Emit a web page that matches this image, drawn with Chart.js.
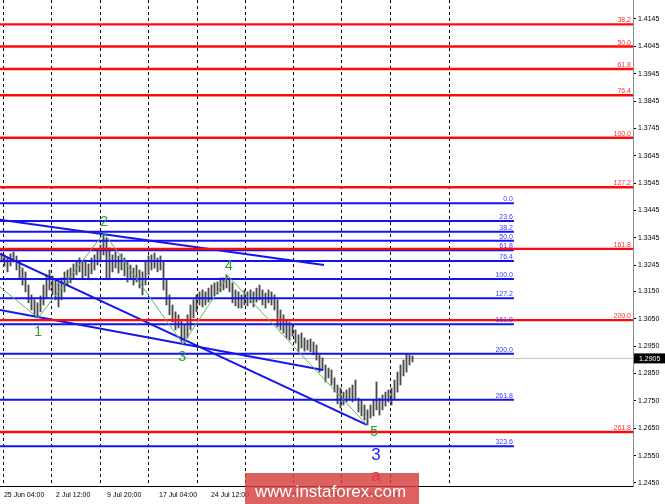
<!DOCTYPE html>
<html><head><meta charset="utf-8">
<script src="https://cdn.jsdelivr.net/npm/chart.js@4"></script>
<style>html,body{margin:0;padding:0;background:#fff;overflow:hidden}</style>
</head><body>
<canvas id="c" width="665" height="504"></canvas>
<script>
// ---- data ----
const highs = [
1.3290,1.3283,1.3272,1.3287,1.3294,1.3279,1.3257,1.3235,1.3221,1.3173,
1.3137,1.3119,1.3108,1.3133,1.3173,1.3210,1.3228,1.3206,1.3192,1.3181,
1.3199,1.3221,1.3228,1.3235,1.3250,1.3257,1.3272,1.3257,1.3265,1.3250,
1.3272,1.3283,1.3301,1.3319,1.3363,1.3345,1.3309,1.3283,1.3294,1.3279,
1.3287,1.3272,1.3257,1.3246,1.3235,1.3246,1.3228,1.3221,1.3257,1.3279,
1.3283,1.3290,1.3272,1.3279,1.3257,1.3192,1.3137,1.3100,1.3075,1.3064,
1.3045,1.3027,1.3064,1.3100,1.3119,1.3137,1.3148,1.3155,1.3148,1.3162,
1.3173,1.3181,1.3184,1.3199,1.3199,1.3210,1.3199,1.3181,1.3155,1.3148,
1.3137,1.3155,1.3148,1.3155,1.3148,1.3162,1.3173,1.3155,1.3144,1.3155,
1.3148,1.3137,1.3119,1.3082,1.3064,1.3045,1.3038,1.3027,1.3009,1.2991,
1.2998,1.2980,1.2972,1.2976,1.2965,1.2954,1.2918,1.2907,1.2881,1.2870,
1.2863,1.2834,1.2808,1.2797,1.2782,1.2790,1.2797,1.2808,1.2826,1.2760,
1.2753,1.2735,1.2717,1.2735,1.2753,1.2819,1.2760,1.2771,1.2782,1.2790,
1.2797,1.2826,1.2855,1.2881,1.2899,1.2921,1.2918,1.2914
];
const lows = [
1.3257,1.3243,1.3221,1.3243,1.3257,1.3228,1.3199,1.3173,1.3148,1.3108,
1.3082,1.3060,1.3053,1.3075,1.3100,1.3126,1.3155,1.3137,1.3119,1.3093,
1.3119,1.3148,1.3173,1.3181,1.3195,1.3210,1.3221,1.3199,1.3206,1.3192,
1.3214,1.3228,1.3246,1.3257,1.3283,1.3192,1.3192,1.3221,1.3235,1.3217,
1.3228,1.3206,1.3184,1.3192,1.3173,1.3184,1.3162,1.3137,1.3173,1.3210,
1.3228,1.3235,1.3221,1.3228,1.3155,1.3100,1.3064,1.3038,1.3009,1.3016,
1.2965,1.2958,1.2980,1.3009,1.3053,1.3075,1.3100,1.3093,1.3100,1.3111,
1.3119,1.3133,1.3140,1.3148,1.3155,1.3162,1.3148,1.3108,1.3097,1.3089,
1.3089,1.3100,1.3097,1.3108,1.3093,1.3111,1.3119,1.3100,1.3089,1.3108,
1.3100,1.3082,1.3020,1.3009,1.2998,1.2980,1.2972,1.2987,1.2961,1.2929,
1.2943,1.2932,1.2936,1.2929,1.2918,1.2899,1.2855,1.2863,1.2819,1.2834,
1.2808,1.2782,1.2739,1.2724,1.2735,1.2746,1.2753,1.2746,1.2753,1.2709,
1.2695,1.2680,1.2662,1.2687,1.2695,1.2717,1.2698,1.2717,1.2731,1.2746,
1.2735,1.2753,1.2782,1.2808,1.2841,1.2855,1.2881,1.2892
];
const yTicks = [1.4145,1.4045,1.3945,1.3845,1.3745,1.3645,1.3545,1.3445,1.3345,1.3245,1.3150,1.3050,1.2950,1.2850,1.2750,1.2650,1.2550,1.2450];
const yMin = 1.2439, yMax = 1.4214;
const xMax = 211;
const lastPrice = 1.2905;
const gridTimes = [1.1, 17.2, 33.4, 49.4, 65.8, 81.9, 97.8, 113.9, 130, 149.7];
const timeLabels = ['25 Jun 04:00','2 Jul 12:00','9 Jul 20:00','17 Jul 04:00','24 Jul 12:00','31 Jul 20:00','8 Aug 04:00','15 Aug 12:00'];
const timeLabelPos = [1.3, 18.7, 35.7, 53, 70.3, 87.3, 103.3, 119.3];
const redFibNames = ['38.2','50.0','61.8','76.4','100.0','127.2','161.8','200.0','261.8'];
const redFibLevels = [1.4125,1.4044,1.3962,1.3866,1.3711,1.3530,1.3305,1.3045,1.2636];
const blueFibNames = ['0.0','23.6','38.2','50.0','61.8','76.4','100.0','127.2','161.8','200.0','261.8','323.6'];
const blueFibLevels = [1.3472,1.3407,1.3368,1.3335,1.3300,1.3261,1.3195,1.3125,1.3030,1.2922,1.2754,1.2584];
const blueFibEnd = 171.3;
const trendX = [[0,108],[0,122.3],[0,107.7]];
const trendY = [[1.3411,1.3246],[1.3287,1.2662],[1.3082,1.2863]];
const waveX = [0, 12.7, 34.7, 61, 76, 122.3];
const waveY = [1.3166, 1.3053, 1.3363, 1.2958, 1.3206, 1.2662];
const waveNames = ['1','2','3','4','5'];
const waveNameX = [12.7, 34.7, 60.7, 76.3, 124.7];
const waveNameY = [1.3002, 1.3403, 1.2910, 1.3243, 1.2636];
const bigWaveNames = ['3','a'];
const bigWaveX = [125.3, 125.3];
const bigWaveY = [1.2550, 1.2473];

// ---- datasets ----
const datasets = [];
datasets.push({
  type:'bar', label:'price', order:20,
  data: highs.map((h,i)=>({x:i+0.5, y:[lows[i], h]})),
  backgroundColor:'#4a4a4a', borderWidth:0, barThickness:1.2
});
datasets.push({type:'line', order:25, data:[{x:0,y:lastPrice},{x:xMax,y:lastPrice}],
  borderColor:'#c4c4c4', borderWidth:1, pointRadius:0});
blueFibLevels.forEach(v=>datasets.push({type:'line', order:5,
  data:[{x:0,y:v},{x:blueFibEnd,y:v}], borderColor:'#1212f2', borderWidth:2, pointRadius:0}));
redFibLevels.forEach(v=>datasets.push({type:'line', order:3,
  data:[{x:0,y:v},{x:xMax,y:v}], borderColor:'#ff0a0a', borderWidth:2.4, pointRadius:0}));
trendX.forEach((xs,k)=>datasets.push({type:'line', order:4,
  data:[{x:xs[0],y:trendY[k][0]},{x:xs[1],y:trendY[k][1]}], borderColor:'#1515ee', borderWidth:2, pointRadius:0}));
datasets.push({type:'line', order:2, data: waveX.map((x,i)=>({x, y:waveY[i]})),
  borderColor:'#5cb85c', borderWidth:1, pointRadius:0, tension:0});

const overlay = {
  id:'overlay',
  afterDatasetsDraw(chart){
    const {ctx, scales:{x, y}, chartArea} = chart;
    ctx.save();
    ctx.font = '7px "Liberation Sans", Arial, sans-serif';
    ctx.textBaseline = 'alphabetic';
    ctx.textAlign = 'right';
    ctx.fillStyle = '#ff3030';
    redFibLevels.forEach((v,i)=>ctx.fillText(redFibNames[i], x.getPixelForValue(xMax)-2, y.getPixelForValue(v)-2));
    ctx.fillStyle = '#3a3aff';
    blueFibLevels.forEach((v,i)=>ctx.fillText(blueFibNames[i], x.getPixelForValue(blueFibEnd)-1, y.getPixelForValue(v)-2));
    // wave labels
    ctx.textAlign = 'center'; ctx.textBaseline = 'middle';
    ctx.font = '14px "Liberation Sans", Arial, sans-serif';
    ctx.fillStyle = '#2f9a2f';
    waveNames.forEach((t,i)=>ctx.fillText(t, x.getPixelForValue(waveNameX[i]), y.getPixelForValue(waveNameY[i])));
    ctx.font = '17px "Liberation Sans", Arial, sans-serif';
    ctx.fillStyle = '#1a1aff';
    ctx.fillText(bigWaveNames[0], x.getPixelForValue(bigWaveX[0]), y.getPixelForValue(bigWaveY[0]));
    ctx.fillStyle = '#ff1a1a';
    ctx.fillText(bigWaveNames[1], x.getPixelForValue(bigWaveX[1]), y.getPixelForValue(bigWaveY[1]));
    // time labels
    ctx.font = '7px "Liberation Sans", Arial, sans-serif';
    ctx.textAlign = 'left'; ctx.textBaseline = 'alphabetic';
    ctx.fillStyle = '#000';
    timeLabels.forEach((t,i)=>ctx.fillText(t, x.getPixelForValue(timeLabelPos[i]), chartArea.bottom+11));
    // last price box
    const py = y.getPixelForValue(lastPrice);
    ctx.fillStyle = '#000';
    ctx.fillRect(chartArea.right+1, py-5, 40, 10);
    ctx.fillStyle = '#fff';
    ctx.textBaseline = 'middle';
    ctx.fillText(lastPrice.toFixed(4), chartArea.right+6, py+0.5);
    ctx.restore();
  },
  afterDraw(chart){
    const {ctx, chartArea} = chart;
    ctx.save();
    ctx.fillStyle = 'rgba(214,62,62,0.82)';
    ctx.fillRect(245, chartArea.bottom-13, 174, 40);
    ctx.fillStyle = '#fff';
    ctx.font = '17px "Liberation Sans", Arial, sans-serif';
    ctx.textAlign = 'left'; ctx.textBaseline = 'alphabetic';
    ctx.fillText('www.instaforex.com', 255, chartArea.bottom+11);
    ctx.restore();
  }
};

new Chart(document.getElementById('c'), {
  type:'bar',
  data:{datasets},
  options:{
    responsive:false, animation:false, devicePixelRatio:1,
    layout:{padding:0},
    plugins:{legend:{display:false}, tooltip:{enabled:false}},
    scales:{
      x:{type:'linear', min:0, max:xMax, offset:false,
        afterBuildTicks:s=>{s.ticks = gridTimes.map(v=>({value:v}));},
        afterFit:s=>{s.height = 18; s.paddingLeft = 0; s.paddingRight = 0;},
        ticks:{display:false},
        grid:{color:'#000', lineWidth:1, drawTicks:false, offset:false},
        border:{display:true, color:'#000', width:1, dash:[3,3]}
      },
      y:{type:'linear', position:'right', min:yMin, max:yMax,
        afterBuildTicks:s=>{s.ticks = yTicks.map(v=>({value:v}));},
        afterFit:s=>{s.width = 32; s.paddingTop = 0; s.paddingBottom = 0;},
        ticks:{autoSkip:false, color:'#000', padding:2, font:{size:7, family:'"Liberation Sans", Arial, sans-serif'}, callback:v=>Number(v).toFixed(4)},
        grid:{drawOnChartArea:false, drawTicks:true, tickLength:3, tickColor:'#000'},
        border:{display:true, color:'#8a8a8a', width:1}
      }
    }
  },
  plugins:[overlay]
});
</script>
</body></html>
